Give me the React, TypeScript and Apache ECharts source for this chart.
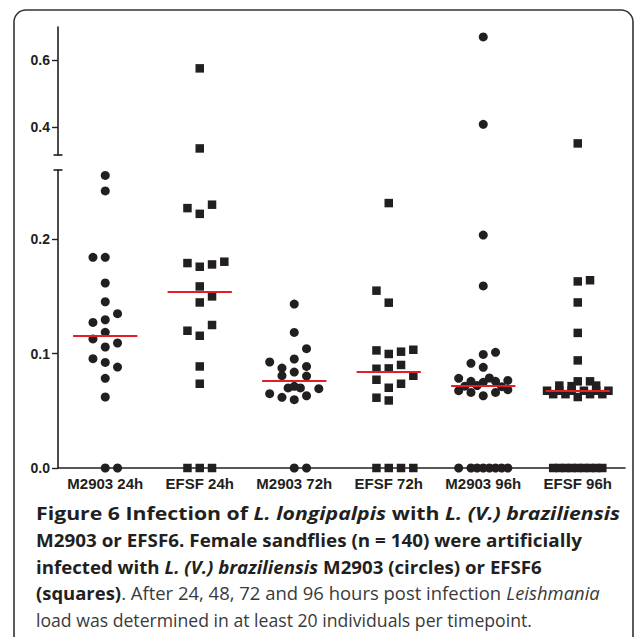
import React, { useEffect, useRef } from 'react';
import * as echarts from 'echarts';

const categories = ['M2903 24h', 'EFSF 24h', 'M2903 72h', 'EFSF 72h', 'M2903 96h', 'EFSF 96h'];
const symbols = ['circle', 'rect', 'circle', 'rect', 'circle', 'rect'];

// [scatter column (jitter slot), Leishmania load]
const m2903_24h: number[][] = [
  [0, 0.2556], [0, 0.242], [-1, 0.184], [0, 0.184], [0, 0.1616], [0, 0.1452], [1, 0.1348],
  [-1, 0.1272], [0, 0.1295], [0, 0.1185], [-1, 0.1127], [1, 0.1092], [0, 0.1057], [-1, 0.0955],
  [0, 0.0922], [1, 0.0882], [0, 0.0783], [0, 0.062], [0, 0], [1, 0],
];
const efsf_24h: number[][] = [
  [0, 0.575], [0, 0.336], [-1, 0.227], [0, 0.222], [1, 0.23], [-1, 0.179], [0, 0.1758],
  [1, 0.1778], [2, 0.1802], [0, 0.1586], [1, 0.1499], [0, 0.1446], [-1, 0.1199], [0, 0.1155],
  [1, 0.1249], [0, 0.0887], [0, 0.0736], [-1, 0], [0, 0], [1, 0],
];
const m2903_72h: number[][] = [
  [0, 0.1432], [0, 0.1184], [1, 0.1042], [-2, 0.0926], [0, 0.0952], [-1, 0.0873], [1, 0.0887],
  [-1, 0.0806], [0, 0.0838], [1, 0.0803], [-0.5, 0.0699], [0, 0.0713], [0.5, 0.0699], [2, 0.0693],
  [-2, 0.0649], [-1, 0.0617], [0, 0.0597], [1, 0.0631], [0, 0], [1, 0],
];
const efsf_72h: number[][] = [
  [0, 0.2314], [-1, 0.1549], [0, 0.1444], [-1, 0.1027], [0, 0.0996], [1, 0.1016], [2, 0.1033],
  [-1, 0.0867], [0, 0.087], [1, 0.09], [2, 0.0806], [-1, 0.0771], [0, 0.0701], [1, 0.0736],
  [-1, 0.0614], [0, 0.059], [-1, 0], [0, 0], [1, 0], [2, 0],
];
const m2903_96h: number[][] = [
  [0, 0.669], [0, 0.408], [0, 0.2035], [0, 0.159], [0, 0.0992], [1, 0.101], [-1, 0.0914],
  [0, 0.0879], [-2, 0.0783], [-1, 0.0757], [0, 0.0748], [0.5, 0.0786], [1, 0.0757], [2, 0.0765],
  [-1.5, 0.0715], [-0.5, 0.072], [1.5, 0.071], [-2, 0.0675], [-1, 0.066], [0, 0.0631],
  [1, 0.066], [2, 0.0684],
  [-2, 0], [-1, 0], [-0.5, 0], [0, 0], [0.5, 0], [1, 0], [1.5, 0], [2, 0],
];
const efsf_96h: number[][] = [
  [0, 0.351], [0, 0.163], [1, 0.164], [0, 0.1446], [0, 0.118], [0, 0.094],
  [0, 0.0757], [1, 0.0757], [-1.5, 0.072], [-0.5, 0.0715], [1.5, 0.072],
  [-2.5, 0.0675], [-1.5, 0.0675], [-0.5, 0.0675], [0.5, 0.0675], [1.5, 0.0675], [2.5, 0.0675],
  [-2, 0.0645], [-1, 0.0645], [1, 0.0645], [2, 0.0645], [0, 0.062],
  [-2, 0], [-1.5, 0], [-1, 0], [-0.5, 0], [0, 0], [0.5, 0], [1, 0], [1.5, 0], [2, 0],
];
const groups = [m2903_24h, efsf_24h, m2903_72h, efsf_72h, m2903_96h, efsf_96h];

const lowerTicks = [0, 0.1, 0.2];
const upperTicks = [0.4, 0.6];
const lowerRange = [0, 0.2603];
const upperRange = [0.3164, 0.6985];
const BREAK = 0.3;

const captionLines: string[][][] = [
  [['b', 'Figure 6 Infection of '], ['bi', 'L. longipalpis'], ['b', ' with '], ['bi', 'L. (V.) braziliensis']],
  [['b', 'M2903 or EFSF6. Female sandflies (n = 140) were artificially']],
  [['b', 'infected with '], ['bi', 'L. (V.) braziliensis'], ['b', ' M2903 (circles) or EFSF6']],
  [['b', '(squares)'], ['r', '. After 24, 48, 72 and 96 hours post infection '], ['ri', 'Leishmania']],
  [['r', 'load was determined in at least 20 individuals per timepoint.']],
];
// right edge of each caption line in the reference
const captionLineEnds = [620, 582, 542, 600, 532];

const INK = '#231f20';
const JIT = 0.13;
const HALF = 0.34;
const CAP_X = 36;
const CAP_Y0 = 513;
const CAP_DY = 26.8;
const CAP_SIZE = 18;

const fontFor: Record<string, string> = {
  b: `bold ${CAP_SIZE}px "Open Sans"`,
  bi: `italic bold ${CAP_SIZE}px "Open Sans"`,
  r: `normal ${CAP_SIZE}px "Open Sans"`,
  ri: `italic normal ${CAP_SIZE}px "Open Sans"`,
};

function median(vals: number[]) {
  const s = [...vals].sort((a, b) => a - b);
  const n = s.length;
  return n % 2 ? s[(n - 1) / 2] : (s[n / 2 - 1] + s[n / 2]) / 2;
}

export default function App() {
  const ref = useRef<HTMLDivElement>(null);
  useEffect(() => {
    if (!ref.current) return;
    const chart = echarts.init(ref.current, null, { renderer: 'svg' });
    const series: any[] = [];
    groups.forEach((g, i) => {
      const pts = g.map(([c, v]) => [i + c * JIT, v]);
      const med = median(g.map((p) => p[1]));
      const common = {
        type: 'scatter',
        symbol: symbols[i],
        symbolSize: symbols[i] === 'circle' ? 9 : 8.5,
        itemStyle: { color: INK, opacity: 1 },
        clip: false,
        silent: true,
      };
      series.push({
        ...common,
        xAxisIndex: 1,
        yAxisIndex: 0,
        data: pts.filter((p) => p[1] < BREAK),
        markLine: {
          silent: true,
          symbol: ['none', 'none'],
          label: { show: false },
          lineStyle: { color: '#e31e24', width: 2, type: 'solid', opacity: 1 },
          data: [[{ coord: [i - HALF, med] }, { coord: [i + HALF, med] }]],
        },
      });
      series.push({
        ...common,
        xAxisIndex: 2,
        yAxisIndex: 1,
        data: pts.filter((p) => p[1] >= BREAK),
      });
    });

    const axisLabelStyle = {
      fontFamily: 'Liberation Sans, Arial, sans-serif',
      fontWeight: 'bold',
      color: INK,
    };
    const richStyles: any = {
      b: { fontFamily: 'Open Sans', fontWeight: 'bold', fontSize: CAP_SIZE, fill: INK },
      bi: { fontFamily: 'Open Sans', fontWeight: 'bold', fontStyle: 'italic', fontSize: CAP_SIZE, fill: INK },
      r: { fontFamily: 'Open Sans', fontWeight: 'normal', fontSize: CAP_SIZE, fill: '#3a3a3a' },
      ri: { fontFamily: 'Open Sans', fontWeight: 'normal', fontStyle: 'italic', fontSize: CAP_SIZE, fill: '#3a3a3a' },
    };
    const ctx = document.createElement('canvas').getContext('2d')!;
    const captionGraphics = captionLines.map((segs, k) => {
      let w = 0;
      segs.forEach(([s, t]) => {
        ctx.font = fontFor[s];
        w += ctx.measureText(t).width;
      });
      const target = captionLineEnds[k] - CAP_X;
      const sx = w > 0 ? Math.min(1.3, Math.max(0.9, target / w)) : 1;
      return {
        type: 'text',
        x: CAP_X,
        y: CAP_Y0 + k * CAP_DY,
        scaleX: sx,
        silent: true,
        style: {
          text: segs.map(([s, t]) => `{${s}|${t}}`).join(''),
          rich: richStyles,
          font: `${CAP_SIZE}px "Open Sans"`,
          verticalAlign: 'middle',
          align: 'left',
        },
      };
    });

    chart.setOption({
      animation: false,
      backgroundColor: '#ffffff',
      grid: [
        { left: 58, right: 11, top: 170, bottom: 169 },
        { left: 58, right: 11, top: 27, bottom: 482 },
      ],
      xAxis: [
        {
          type: 'category',
          gridIndex: 0,
          data: categories,
          boundaryGap: true,
          axisLine: { lineStyle: { color: INK, width: 1.6 } },
          axisTick: { alignWithLabel: true, length: 4, lineStyle: { color: INK, width: 1.2 } },
          axisLabel: { ...axisLabelStyle, fontSize: 15, margin: 8, interval: 0 },
          splitLine: { show: false },
        },
        { type: 'value', gridIndex: 0, min: -0.5, max: 5.5, show: false },
        { type: 'value', gridIndex: 1, min: -0.5, max: 5.5, show: false },
      ],
      yAxis: [
        {
          type: 'value',
          gridIndex: 0,
          min: lowerRange[0],
          max: lowerRange[1],
          axisLine: { show: true, onZero: false, symbol: ['none', 'rect'], symbolSize: [9, 1.6], lineStyle: { color: INK, width: 1.6 } },
          axisTick: { show: true, customValues: lowerTicks, length: 6, lineStyle: { color: INK, width: 1.4 } },
          axisLabel: { ...axisLabelStyle, fontSize: 14, customValues: lowerTicks, margin: 8, formatter: (v: number) => v.toFixed(1) },
          splitLine: { show: false },
        },
        {
          type: 'value',
          gridIndex: 1,
          min: upperRange[0],
          max: upperRange[1],
          axisLine: { show: true, onZero: false, symbol: ['rect', 'none'], symbolSize: [9, 1.6], lineStyle: { color: INK, width: 1.6 } },
          axisTick: { show: true, customValues: upperTicks, length: 6, lineStyle: { color: INK, width: 1.4 } },
          axisLabel: { ...axisLabelStyle, fontSize: 14, customValues: upperTicks, margin: 8, formatter: (v: number) => v.toFixed(1) },
          splitLine: { show: false },
        },
      ],
      graphic: [
        {
          type: 'rect',
          shape: { x: 14, y: 10, width: 619, height: 700, r: 12 },
          style: { fill: 'none', stroke: '#333333', lineWidth: 1.6 },
          silent: true,
        },
        ...captionGraphics,
      ],
      series,
    });
    return () => chart.dispose();
  }, []);
  return <div ref={ref} style={{ position: 'absolute', left: 0, top: 0, width: 636, height: 637 }} />;
}
